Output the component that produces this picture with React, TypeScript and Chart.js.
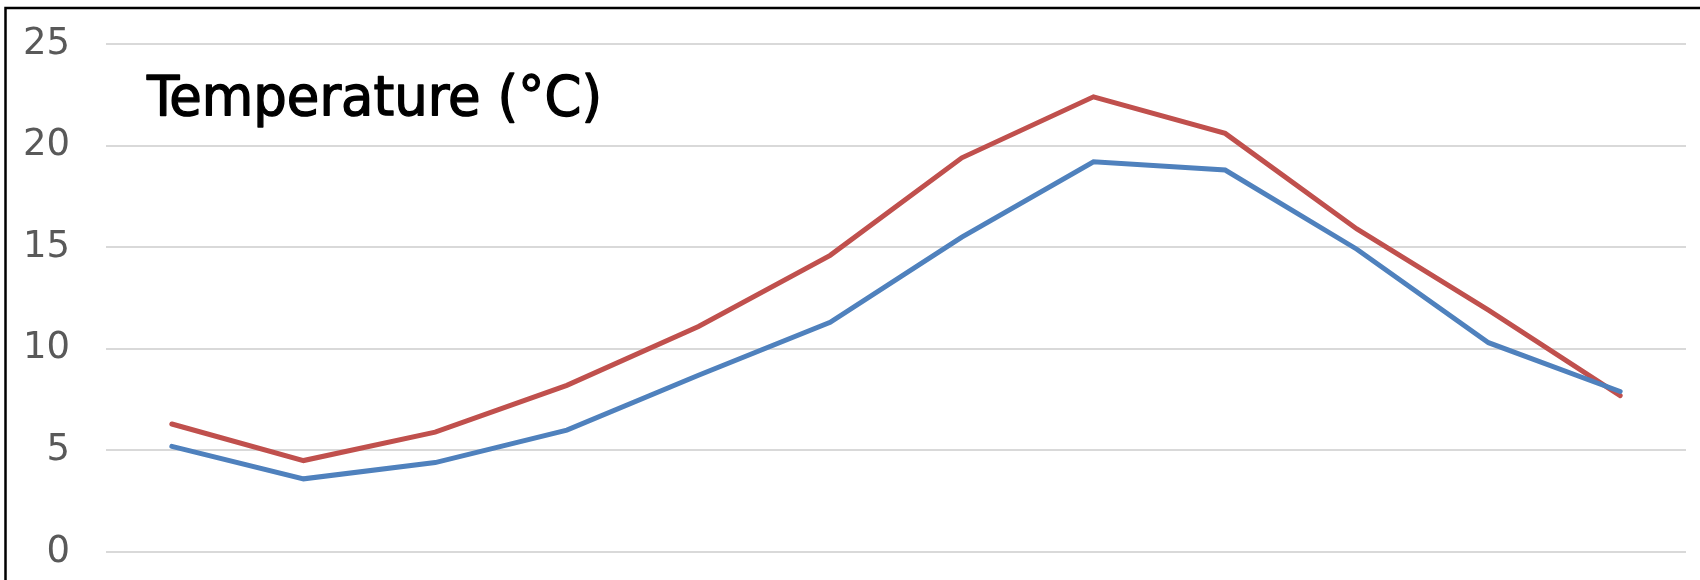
import React, { useEffect, useRef } from "react";
import { Chart, registerables } from "chart.js";

Chart.register(...registerables);

const months = ["Jan", "Feb", "Mar", "Apr", "May", "Jun", "Jul", "Aug", "Sep", "Oct", "Nov", "Dec"];
const seriesRed = [6.3, 4.5, 5.9, 8.2, 11.1, 14.6, 19.4, 22.4, 20.6, 15.9, 11.9, 7.7];
const seriesBlue = [5.2, 3.6, 4.4, 6.0, 8.7, 11.3, 15.5, 19.2, 18.8, 14.9, 10.3, 7.9];
const titleText = "Temperature (°C)";
const yMin = 0;
const yMax = 25;
const yStep = 5;

const framePlugin = {
  id: "frameAndTitle",
  afterDraw(chart: any) {
    const ctx = chart.ctx;
    ctx.save();
    ctx.strokeStyle = "#000000";
    ctx.lineWidth = 2.5;
    ctx.beginPath();
    ctx.moveTo(5.5, 580);
    ctx.lineTo(5.5, 8);
    ctx.lineTo(1700, 8);
    ctx.stroke();
    ctx.fillStyle = "#000000";
    ctx.strokeStyle = "#000000";
    ctx.lineWidth = 1.3;
    ctx.lineJoin = "round";
    ctx.font = '55px "DejaVu Sans Condensed", "DejaVu Sans", sans-serif';
    ctx.textBaseline = "alphabetic";
    ctx.textAlign = "left";
    const w = ctx.measureText(titleText).width;
    const sx = 455 / w;
    ctx.translate(147, 115);
    ctx.scale(sx, 1);
    ctx.fillText(titleText, 0, 0);
    ctx.strokeText(titleText, 0, 0);
    ctx.restore();
  },
};

export default function App() {
  const ref = useRef<HTMLCanvasElement | null>(null);
  useEffect(() => {
    if (!ref.current) return;
    const chart = new Chart(ref.current, {
      type: "line",
      data: {
        labels: months,
        datasets: [
          {
            label: "Series 2",
            data: seriesBlue,
            borderColor: "#4F81BD",
            backgroundColor: "#4F81BD",
            borderWidth: 5,
            pointRadius: 0,
            borderCapStyle: "round",
            borderJoinStyle: "miter",
            tension: 0,
          },
          {
            label: "Series 1",
            data: seriesRed,
            borderColor: "#C0504D",
            backgroundColor: "#C0504D",
            borderWidth: 5,
            pointRadius: 0,
            borderCapStyle: "round",
            borderJoinStyle: "miter",
            tension: 0,
          },
        ],
      },
      options: {
        animation: false,
        responsive: false,
        devicePixelRatio: 1,
        layout: { padding: { top: 44, bottom: 28, left: 0, right: 14 } },
        plugins: { legend: { display: false }, title: { display: false }, tooltip: { enabled: false } },
        scales: {
          x: { display: false, offset: true },
          y: {
            min: yMin,
            max: yMax,
            border: { display: false },
            grid: { color: "#d9d9d9", lineWidth: 2, drawTicks: false },
            ticks: {
              stepSize: yStep,
              padding: 36,
              color: "#595959",
              font: { family: '"DejaVu Sans", sans-serif', size: 37 },
            },
            afterFit(axis: any) {
              axis.width = 106;
              axis.paddingTop = 0;
              axis.paddingBottom = 0;
            },
          },
        },
      },
      plugins: [framePlugin],
    });
    return () => chart.destroy();
  }, []);
  return (
    <div style={{ position: "absolute", left: 0, top: 0, width: 1700, height: 580, background: "#fff" }}>
      <canvas ref={ref} width={1700} height={580} style={{ display: "block" }} />
    </div>
  );
}
